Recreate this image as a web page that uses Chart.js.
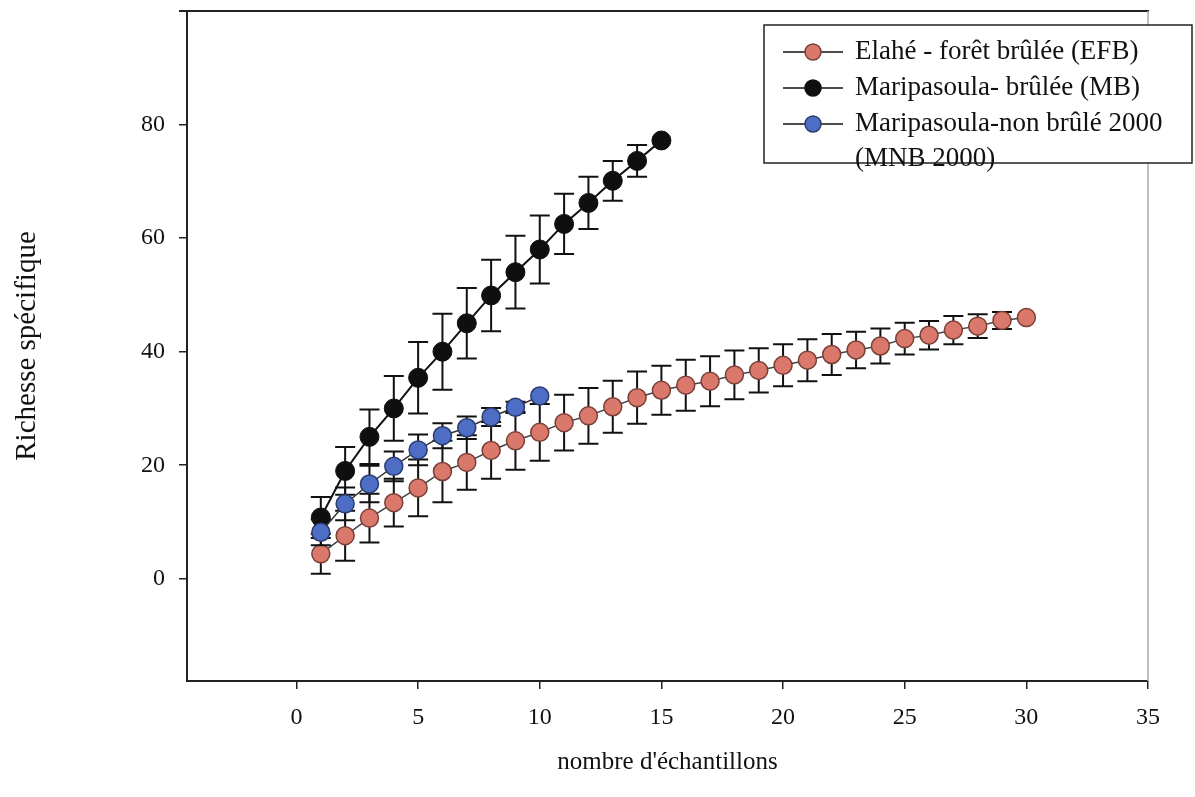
<!DOCTYPE html>
<html>
<head>
<meta charset="utf-8">
<title>Richesse spécifique</title>
<script src="https://cdn.jsdelivr.net/npm/chart.js@4/dist/chart.umd.min.js"></script>
<style>
    html, body { margin: 0; padding: 0; background: #fff; }
    #wrap { width: 1195px; height: 797px; position: relative; }
</style>
</head>
<body>
<div id="wrap"><canvas id="curvesChart"></canvas></div>
<script>
// Courbes d'accumulation des espèces (moyenne +/- écart-type)

const samplesEFB = [1, 2, 3, 4, 5, 6, 7, 8, 9, 10, 11, 12, 13, 14, 15,
    16, 17, 18, 19, 20, 21, 22, 23, 24, 25, 26, 27, 28, 29, 30];
const richEFB = [4.4, 7.6, 10.7, 13.4, 16.0, 18.9, 20.5, 22.6, 24.3, 25.8, 27.5, 28.7, 30.3, 31.9, 33.2,
    34.1, 34.8, 35.9, 36.7, 37.6, 38.5, 39.5, 40.3, 41.0, 42.3, 42.9, 43.8, 44.5, 45.5, 46.0];
const errEFB = [3.5, 4.4, 4.3, 4.2, 5.0, 5.4, 4.8, 5.0, 5.1, 5.0, 4.9, 4.9, 4.6, 4.6, 4.3,
    4.5, 4.4, 4.3, 3.9, 3.7, 3.7, 3.6, 3.2, 3.1, 2.8, 2.5, 2.5, 2.1, 1.5, 0];

const samplesMB = [1, 2, 3, 4, 5, 6, 7, 8, 9, 10, 11, 12, 13, 14, 15];
const richMB = [10.8, 19.0, 25.0, 30.0, 35.4, 40.0, 45.0, 49.9, 54.0, 58.0, 62.5, 66.2, 70.1, 73.6, 77.2];
const errMB = [3.6, 4.2, 4.8, 5.7, 6.3, 6.7, 6.2, 6.3, 6.4, 6.0, 5.3, 4.6, 3.5, 2.8, 0];

const samplesMNB = [1, 2, 3, 4, 5, 6, 7, 8, 9, 10];
const richMNB = [8.2, 13.2, 16.7, 19.8, 22.7, 25.2, 26.6, 28.5, 30.2, 32.2];
const errMNB = [2.3, 2.9, 3.2, 2.6, 2.7, 2.2, 2.0, 1.6, 1.0, 0];

const xTicks = [0, 5, 10, 15, 20, 25, 30, 35];
const yTicks = [0, 20, 40, 60, 80];

const legendLabels = [
    ['Elahé - forêt brûlée (EFB)'],
    ['Maripasoula- brûlée (MB)'],
    ['Maripasoula-non brûlé 2000', '(MNB 2000)'],
];

const SERIF = '"Liberation Serif", "Times New Roman", serif';

function toPoints(xs, ys) {
    return xs.map((x, i) => ({ x: x, y: ys[i] }));
}

// Barres d'erreur dessinées sous chaque série
const errorBars = {
    id: 'errorBars',
    beforeDatasetDraw(chart, args) {
        const ds = chart.data.datasets[args.index];
        if (!ds.errors) return;
        const ctx = chart.ctx;
        const xs = chart.scales.x, ys = chart.scales.y;
        ctx.save();
        ctx.strokeStyle = '#111';
        ctx.lineWidth = 2;
        ds.data.forEach((p, i) => {
            const e = ds.errors[i];
            if (!e) return;
            const px = xs.getPixelForValue(p.x);
            const top = ys.getPixelForValue(p.y + e);
            const bot = ys.getPixelForValue(p.y - e);
            ctx.beginPath();
            ctx.moveTo(px, top); ctx.lineTo(px, bot);
            ctx.moveTo(px - 10, top); ctx.lineTo(px + 10, top);
            ctx.moveTo(px - 10, bot); ctx.lineTo(px + 10, bot);
            ctx.stroke();
        });
        ctx.restore();
    }
};

// Cadre haut / droite et légende encadrée
const frameAndLegend = {
    id: 'frameAndLegend',
    afterDraw(chart) {
        const ctx = chart.ctx;
        const a = chart.chartArea;
        ctx.save();
        ctx.lineWidth = 2;
        ctx.strokeStyle = '#222';
        ctx.beginPath();
        ctx.moveTo(a.left - 8, a.top);
        ctx.lineTo(a.right + 1, a.top);
        ctx.stroke();
        ctx.strokeStyle = '#aaa';
        ctx.lineWidth = 1.5;
        ctx.beginPath();
        ctx.moveTo(a.right, a.top);
        ctx.lineTo(a.right, a.bottom);
        ctx.stroke();

        // boîte de légende
        const bx = 764, by = 25, bw = 428, bh = 138;
        ctx.fillStyle = '#fff';
        ctx.fillRect(bx, by, bw, bh);
        ctx.strokeStyle = '#222';
        ctx.lineWidth = 1.5;
        ctx.strokeRect(bx, by, bw, bh);

        const rows = [52, 88, 124];
        ctx.font = '27px ' + SERIF;
        ctx.textBaseline = 'middle';
        ctx.textAlign = 'left';
        chart.data.datasets.forEach((ds, i) => {
            const ry = rows[i];
            ctx.strokeStyle = '#111';
            ctx.lineWidth = 1.5;
            ctx.beginPath();
            ctx.moveTo(783, ry); ctx.lineTo(843, ry);
            ctx.stroke();
            ctx.beginPath();
            ctx.arc(813, ry, 8, 0, Math.PI * 2);
            ctx.fillStyle = ds.pointBackgroundColor;
            ctx.fill();
            ctx.strokeStyle = ds.pointBorderColor;
            ctx.lineWidth = 1.5;
            ctx.stroke();
            ctx.fillStyle = '#111';
            legendLabels[i].forEach((t, k) => ctx.fillText(t, 855, ry + k * 35));
        });
        ctx.restore();
    }
};

const chart = new Chart(document.getElementById('curvesChart'), {
    type: 'line',
    data: {
        datasets: [
            {
                label: legendLabels[0][0],
                data: toPoints(samplesEFB, richEFB),
                errors: errEFB,
                borderColor: '#444',
                borderWidth: 1.5,
                pointRadius: 9,
                pointBackgroundColor: '#d9786b',
                pointBorderColor: '#7a3f38',
                pointBorderWidth: 1.5,
                order: 2,
            },
            {
                label: legendLabels[1][0],
                data: toPoints(samplesMB, richMB),
                errors: errMB,
                borderColor: '#111',
                borderWidth: 2,
                pointRadius: 9.5,
                pointBackgroundColor: '#0f0f0f',
                pointBorderColor: '#0f0f0f',
                pointBorderWidth: 1,
                order: 3,
            },
            {
                label: legendLabels[2].join(' '),
                data: toPoints(samplesMNB, richMNB),
                errors: errMNB,
                borderColor: '#333',
                borderWidth: 1.5,
                pointRadius: 9,
                pointBackgroundColor: '#4d6ec4',
                pointBorderColor: '#2b3b6e',
                pointBorderWidth: 1.5,
                order: 1,
            },
        ],
    },
    options: {
        responsive: true,
        maintainAspectRatio: false,
        animation: false,
        layout: { padding: { top: 11, right: 47, left: 0, bottom: 0 } },
        plugins: {
            legend: { display: false },
            tooltip: { enabled: false },
        },
        scales: {
            x: {
                type: 'linear',
                min: -4.5,
                max: 35,
                afterBuildTicks: (s) => { s.ticks = xTicks.map(v => ({ value: v })); },
                afterFit: (s) => { s.height = 116; s.paddingLeft = 0; s.paddingRight = 0; },
                grid: { drawOnChartArea: false, drawTicks: true, tickLength: 8, color: '#222', lineWidth: 1.5 },
                border: { display: true, color: '#222', width: 2 },
                ticks: { color: '#111', padding: 14, font: { family: SERIF, size: 24 } },
                title: {
                    display: true,
                    text: "nombre d'échantillons",
                    color: '#111',
                    font: { family: SERIF, size: 25 },
                    padding: { top: 0, bottom: 20 },
                },
            },
            y: {
                type: 'linear',
                min: -18,
                max: 100,
                afterBuildTicks: (s) => { s.ticks = yTicks.map(v => ({ value: v })); },
                afterFit: (s) => { s.width = 187; s.paddingTop = 0; s.paddingBottom = 0; },
                grid: { drawOnChartArea: false, drawTicks: true, tickLength: 8, color: '#222', lineWidth: 1.5 },
                border: { display: true, color: '#222', width: 2 },
                ticks: { color: '#111', padding: 14, font: { family: SERIF, size: 24 } },
                title: {
                    display: true,
                    text: 'Richesse spécifique',
                    color: '#111',
                    font: { family: SERIF, size: 29 },
                    padding: { top: 10, bottom: 0 },
                },
            },
        },
    },
    plugins: [errorBars, frameAndLegend],
});
</script>
</body>
</html>
